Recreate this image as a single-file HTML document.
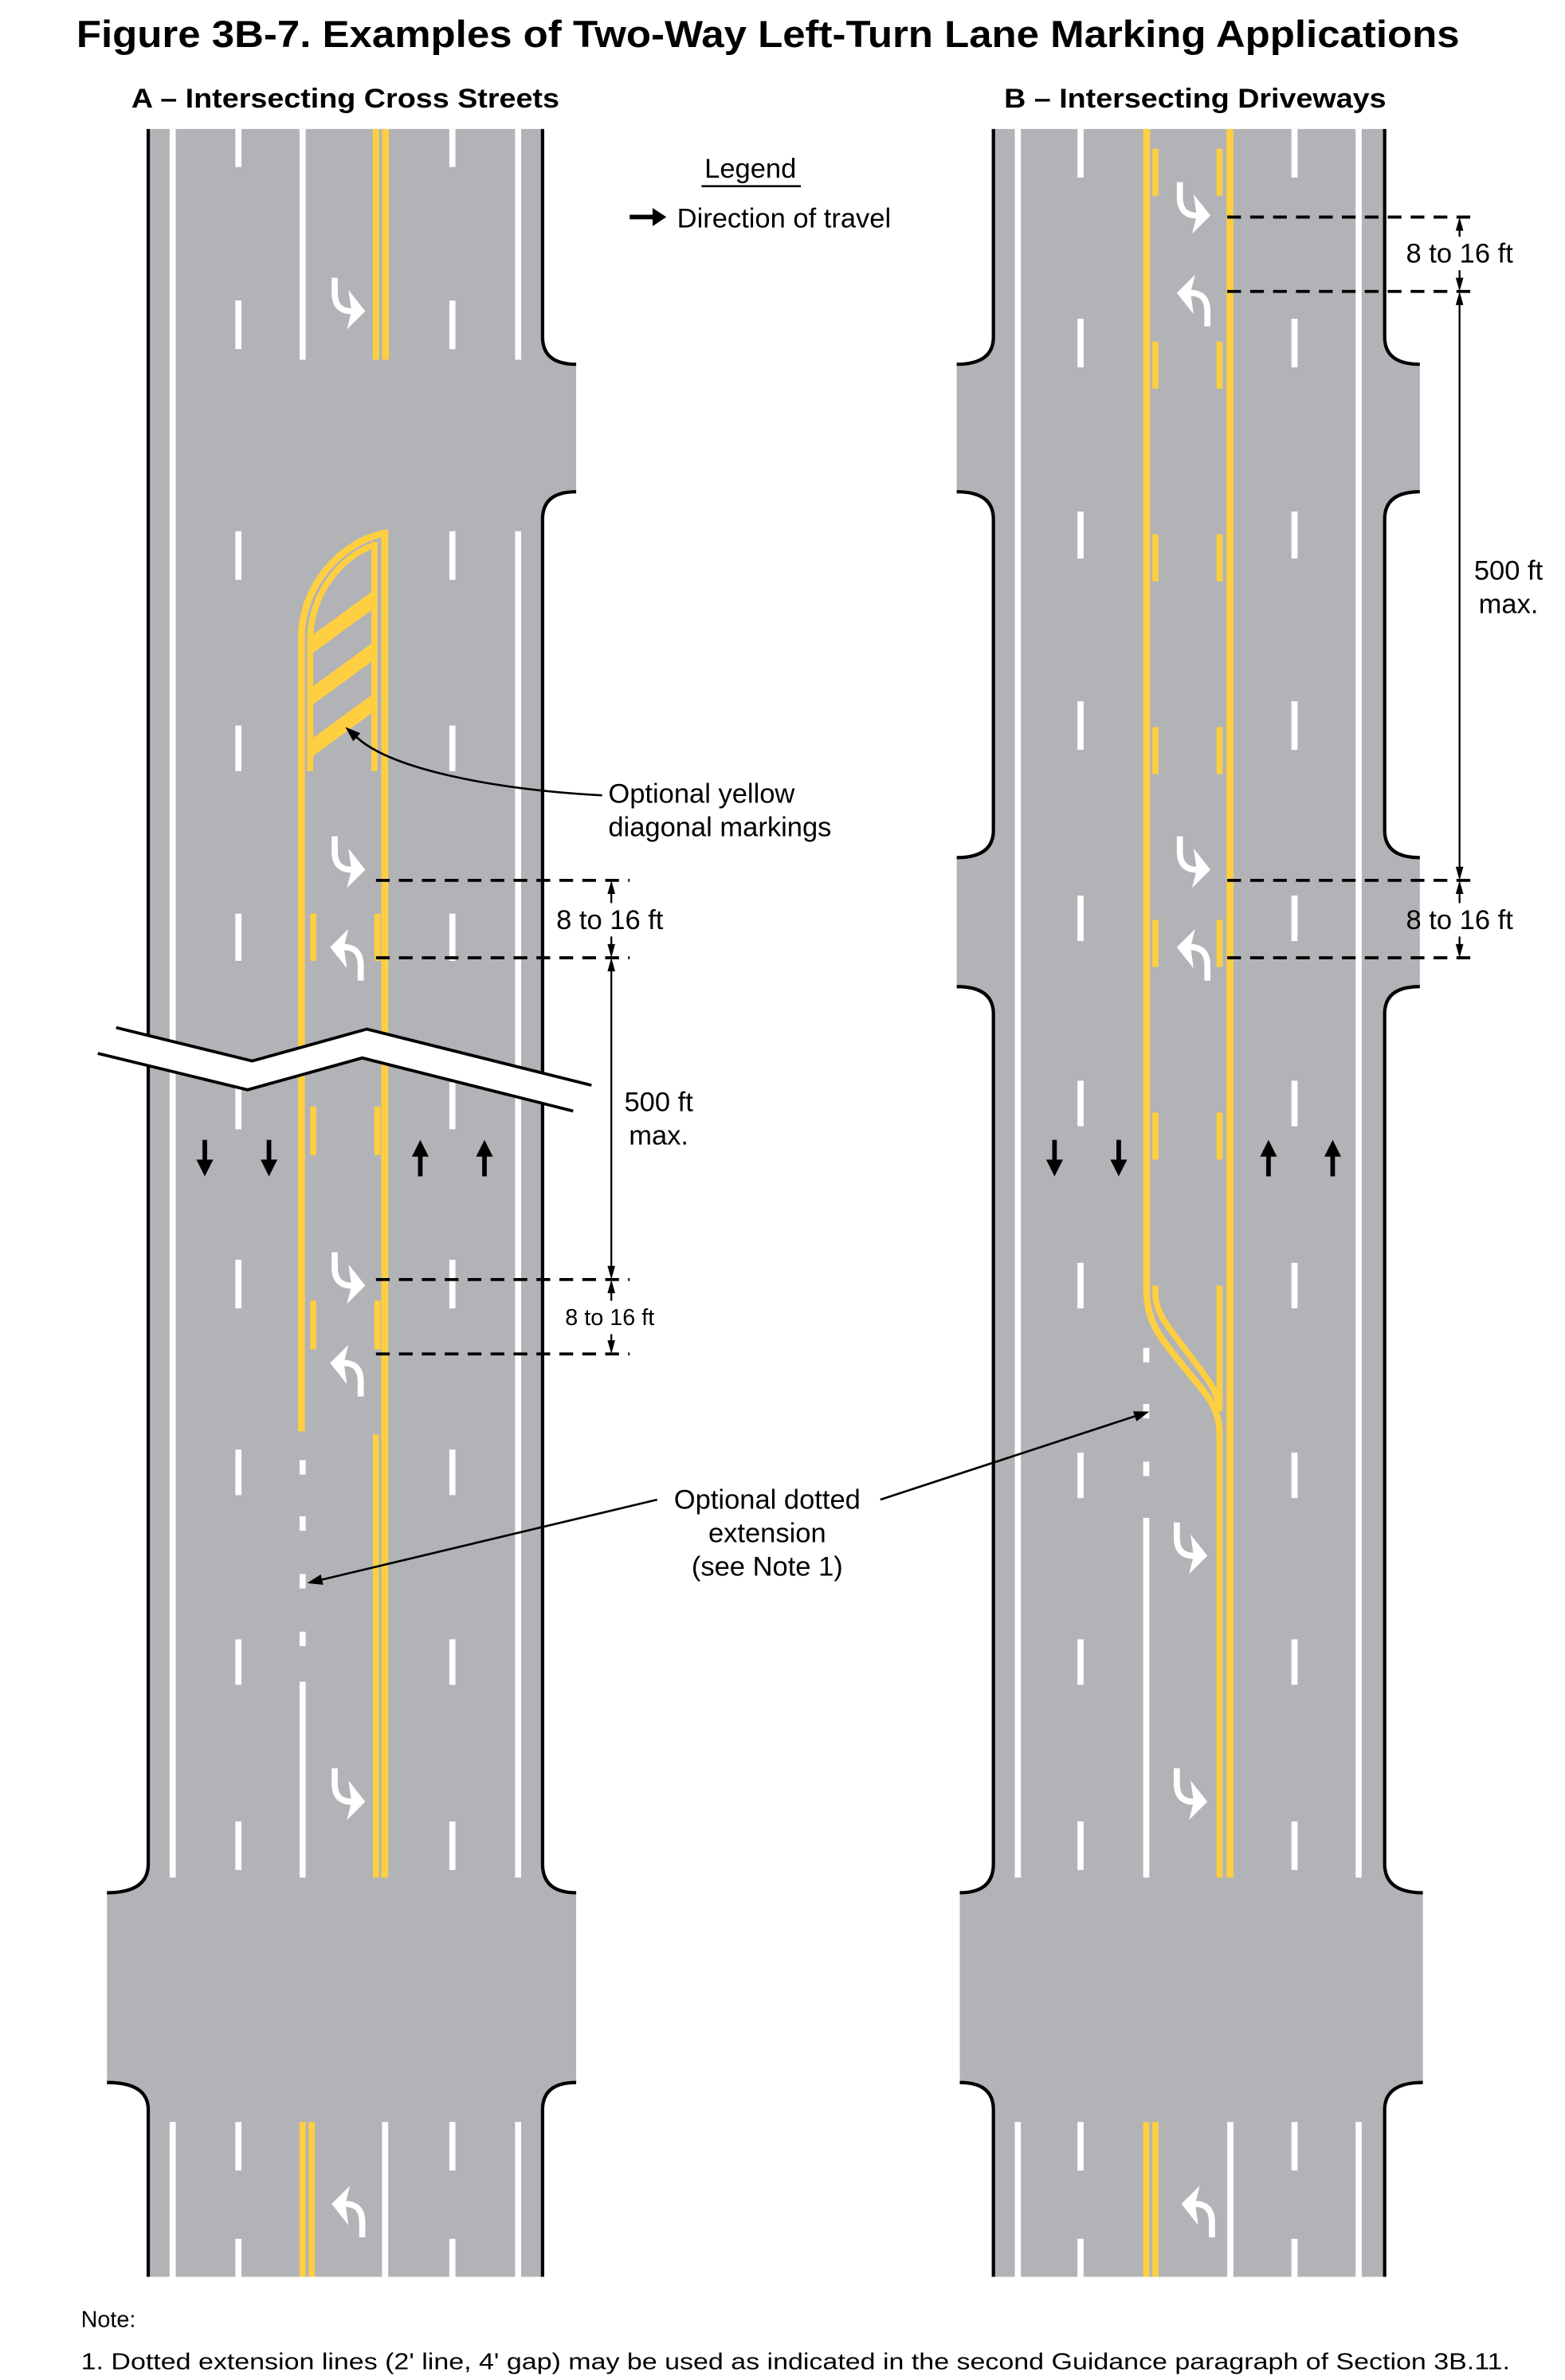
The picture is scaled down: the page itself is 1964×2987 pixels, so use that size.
<!DOCTYPE html>
<html><head><meta charset="utf-8"><style>
html,body{margin:0;padding:0;background:#fff;}
svg{display:block;}
text{font-family:"Liberation Sans",Arial,sans-serif;fill:#000;}
</style></head><body>
<svg width="1964" height="2987" viewBox="0 0 1024 1568" preserveAspectRatio="none" xmlns="http://www.w3.org/2000/svg">
<defs>
<g id="rt"><path d="M2,0 V10 Q2,22 13,22" stroke="#fff" stroke-width="4" fill="none"/><polygon points="11,8 22,22 10,34 13,22" fill="#fff"/></g>
<path id="dn" d="M-1.5,0 h3 v13 h4 l-5.5,11 l-5.5,-11 h4z" fill="#000"/>
<path id="up" d="M-1.5,24 h3 v-13 h4 l-5.5,-11 l-5.5,11 h4z" fill="#000"/>
</defs>
<text x="50" y="31" font-size="25" font-weight="bold" textLength="905" lengthAdjust="spacingAndGlyphs">Figure 3B-7.  Examples of Two-Way Left-Turn Lane Marking Applications</text>
<text x="86" y="71" font-size="18" font-weight="bold" textLength="280" lengthAdjust="spacingAndGlyphs">A – Intersecting Cross Streets</text>
<text x="657" y="71" font-size="18" font-weight="bold" textLength="250" lengthAdjust="spacingAndGlyphs">B – Intersecting Driveways</text>

<!-- ROAD A -->
<path d="M97,85 H355 V222 Q355,240 377,240 V324 Q355,324 355,342 V1228 Q355,1247 377,1247 V1372 Q355,1372 355,1390 V1500 H97 V1390 Q97,1372 70,1372 V1247 Q97,1247 97,1228 Z" fill="#b2b3b6"/>
<g stroke="#000" stroke-width="2.2" fill="none">
<path d="M97,85 V1228 Q97,1247 70,1247"/><path d="M70,1372 Q97,1372 97,1390 V1500"/>
<path d="M355,85 V222 Q355,240 377,240"/><path d="M377,324 Q355,324 355,342 V1228 Q355,1247 377,1247"/><path d="M377,1372 Q355,1372 355,1390 V1500"/>
</g>
<g fill="#fff">
<rect x="111" y="85" width="4" height="1152"/><rect x="111" y="1398" width="4" height="102"/>
<rect x="337" y="85" width="4" height="152"/><rect x="337" y="350" width="4" height="887"/><rect x="337" y="1398" width="4" height="102"/>
<rect x="196" y="85" width="4" height="152"/>
<rect x="196" y="962" width="4" height="9.5"/><rect x="196" y="999" width="4" height="9.5"/><rect x="196" y="1037" width="4" height="9.5"/><rect x="196" y="1075" width="4" height="9.5"/>
<rect x="196" y="1108" width="4" height="129"/>
<rect x="250" y="1398" width="4" height="102"/>
<g id="dA">
<rect x="154" y="85" width="4" height="25"/><rect x="154" y="198" width="4" height="32"/><rect x="154" y="350" width="4" height="32"/><rect x="154" y="478" width="4" height="30"/><rect x="154" y="602" width="4" height="31"/><rect x="154" y="713" width="4" height="31"/><rect x="154" y="830" width="4" height="32"/><rect x="154" y="955" width="4" height="30"/><rect x="154" y="1080" width="4" height="30"/><rect x="154" y="1200" width="4" height="32"/><rect x="154" y="1398" width="4" height="32"/><rect x="154" y="1475" width="4" height="25"/>
</g>
<use href="#dA" transform="translate(140,0)"/>
</g>
<g fill="#fecf41">
<rect x="244" y="85" width="4" height="152"/><rect x="250" y="85" width="4.5" height="152"/>
<rect x="249.5" y="349" width="4.5" height="888"/>
<rect x="244" y="945" width="4" height="292"/>
<rect x="195" y="415" width="4.5" height="528"/>
<rect x="201" y="420" width="4" height="88"/><rect x="243" y="357" width="4" height="151"/>
<rect x="203" y="602" width="4" height="31"/><rect x="245" y="602" width="4" height="31"/>
<rect x="203" y="729" width="4" height="32"/><rect x="245" y="729" width="4" height="32"/>
<rect x="203" y="857" width="4" height="32"/><rect x="245" y="857" width="4" height="32"/>
<rect x="196" y="1398" width="4" height="102"/><rect x="202" y="1398" width="4" height="102"/>
<polygon points="205,418 243,390 243,402 205,430"/>
<polygon points="205,452 243,424 243,436 205,464"/>
<polygon points="205,486 243,458 243,470 205,498"/>
</g>
<g stroke="#fecf41" stroke-width="4.5" fill="none">
<path d="M254,351 C225,355 197.2,385 197.2,420"/>
<path d="M245,359 C222,367 203,392 203,422" stroke-width="4"/>
</g>
<use href="#rt" x="217" y="183"/>
<use href="#rt" x="217" y="551"/>
<use href="#rt" transform="translate(238,646) rotate(180)"/>
<use href="#rt" x="217" y="825"/>
<use href="#rt" transform="translate(238,920) rotate(180)"/>
<use href="#rt" x="217" y="1165"/>
<use href="#rt" transform="translate(239,1474) rotate(180)"/>
<use href="#dn" x="134" y="751"/><use href="#dn" x="176" y="751"/>
<use href="#up" x="275" y="751"/><use href="#up" x="317" y="751"/>
<!-- break -->
<polygon points="76,677 165,699 240,678 387,715 375,732 237,697 162,718 64,694" fill="#fff"/>
<polyline points="76,677 165,699 240,678 387,715" fill="none" stroke="#000" stroke-width="2"/>
<polyline points="64,694 162,718 237,697 375,732" fill="none" stroke="#000" stroke-width="2"/>

<!-- ROAD B -->
<path d="M650,85 H906 V222 Q906,240 929,240 V324 Q906,324 906,342 V547 Q906,565 929,565 V650 Q906,650 906,668 V1228 Q906,1247 931,1247 V1372 Q906,1372 906,1390 V1500 H650 V1390 Q650,1372 628,1372 V1247 Q650,1247 650,1228 V668 Q650,650 626,650 V565 Q650,565 650,547 V342 Q650,324 626,324 V240 Q650,240 650,222 Z" fill="#b2b3b6"/>
<g stroke="#000" stroke-width="2.2" fill="none">
<path d="M650,85 V222 Q650,240 626,240"/><path d="M626,324 Q650,324 650,342 V547 Q650,565 626,565"/><path d="M626,650 Q650,650 650,668 V1228 Q650,1247 628,1247"/><path d="M628,1372 Q650,1372 650,1390 V1500"/>
<path d="M906,85 V222 Q906,240 929,240"/><path d="M929,324 Q906,324 906,342 V547 Q906,565 929,565"/><path d="M929,650 Q906,650 906,668 V1228 Q906,1247 931,1247"/><path d="M931,1372 Q906,1372 906,1390 V1500"/>
</g>
<g fill="#fff">
<rect x="664" y="85" width="4" height="1152"/><rect x="664" y="1398" width="4" height="102"/>
<rect x="887" y="85" width="4" height="1152"/><rect x="887" y="1398" width="4" height="102"/>
<rect x="748" y="888" width="4" height="9.5"/><rect x="748" y="925" width="4" height="9.5"/><rect x="748" y="963" width="4" height="9.5"/>
<rect x="748" y="1000" width="4" height="237"/>
<rect x="803" y="1398" width="4" height="102"/>
<g id="dB">
<rect x="705" y="85" width="4" height="32"/><rect x="705" y="210" width="4" height="32"/><rect x="705" y="337" width="4" height="31"/><rect x="705" y="462" width="4" height="32"/><rect x="705" y="590" width="4" height="30"/><rect x="705" y="712" width="4" height="30"/><rect x="705" y="832" width="4" height="30"/><rect x="705" y="957" width="4" height="30"/><rect x="705" y="1080" width="4" height="30"/><rect x="705" y="1200" width="4" height="32"/><rect x="705" y="1398" width="4" height="32"/><rect x="705" y="1475" width="4" height="25"/>
</g>
<use href="#dB" transform="translate(140,0)"/>
</g>
<g fill="#fecf41">
<rect x="748" y="85" width="4.5" height="767"/>
<rect x="802.5" y="85" width="4.5" height="1152"/>
<rect x="796" y="940" width="4" height="297"/>
<rect x="796" y="847" width="4" height="80"/>
<g id="ydB">
<rect x="754" y="98" width="4" height="31"/><rect x="754" y="225" width="4" height="31"/><rect x="754" y="352" width="4" height="31"/><rect x="754" y="479" width="4" height="31"/><rect x="754" y="606" width="4" height="31"/><rect x="754" y="733" width="4" height="31"/>
</g>
<use href="#ydB" transform="translate(42,0)"/>
<rect x="748" y="1398" width="4" height="102"/><rect x="754" y="1398" width="4" height="102"/>
</g>
<g stroke="#fecf41" stroke-width="4.3" fill="none">
<path d="M750.2,850 C750.2,872 760,882 775,901 C790,920 798,926 798,946"/>
<path d="M756,847 V852 C756,866 766,876 780,895 C792,911 797,917 798,930" stroke-width="4"/>
</g>
<use href="#rt" x="770" y="120"/>
<use href="#rt" transform="translate(792,215) rotate(180)"/>
<use href="#rt" x="770" y="551"/>
<use href="#rt" transform="translate(792,646) rotate(180)"/>
<use href="#rt" x="768" y="1003"/>
<use href="#rt" x="768" y="1165"/>
<use href="#rt" transform="translate(795,1474) rotate(180)"/>
<use href="#dn" x="690" y="751"/><use href="#dn" x="732" y="751"/>
<use href="#up" x="830" y="751"/><use href="#up" x="872" y="751"/>

<!-- Legend -->
<text x="491" y="117" font-size="18" text-anchor="middle">Legend</text>
<rect x="459" y="122" width="65" height="1.3" fill="#000"/>
<path d="M412,141.5 h15 v-4.5 l9,6 l-9,6 v-4.5 h-15z" fill="#000"/>
<text x="443" y="150" font-size="18">Direction of travel</text>

<!-- Dimensions A -->
<g stroke="#000" stroke-width="2" stroke-dasharray="9 6" fill="none">
<path d="M246,580 H412"/><path d="M246,631 H412"/><path d="M246,843 H412"/><path d="M246,892 H412"/>
<path d="M803,143 H967"/><path d="M803,192 H967"/><path d="M803,580 H967"/><path d="M803,631 H967"/>
</g>
<g stroke="#000" stroke-width="1.2" fill="none">
<path d="M400,588 V595"/><path d="M400,617 V623"/><path d="M400,639 V835"/><path d="M400,851 V857"/><path d="M400,879 V884"/>
<path d="M955,151 V156"/><path d="M955,178 V184"/><path d="M955,200 V572"/><path d="M955,588 V595"/><path d="M955,617 V623"/>
</g>
<g fill="#000">
<polygon points="400,580 397.5,589 402.5,589"/><polygon points="400,631 397.5,622 402.5,622"/>
<polygon points="400,631 397.5,640 402.5,640"/><polygon points="400,843 397.5,834 402.5,834"/>
<polygon points="400,843 397.5,852 402.5,852"/><polygon points="400,892 397.5,883 402.5,883"/>
<polygon points="955,143 952.5,152 957.5,152"/><polygon points="955,192 952.5,183 957.5,183"/>
<polygon points="955,192 952.5,201 957.5,201"/><polygon points="955,580 952.5,571 957.5,571"/>
<polygon points="955,580 952.5,589 957.5,589"/><polygon points="955,631 952.5,622 957.5,622"/>
</g>
<text x="399" y="612" font-size="18" text-anchor="middle">8 to 16 ft</text>
<text x="431" y="732" font-size="18" text-anchor="middle">500 ft</text>
<text x="431" y="754" font-size="18" text-anchor="middle">max.</text>
<text x="399" y="873" font-size="15" text-anchor="middle">8 to 16 ft</text>
<text x="955" y="173" font-size="18" text-anchor="middle">8 to 16 ft</text>
<text x="987" y="382" font-size="18" text-anchor="middle">500 ft</text>
<text x="987" y="404" font-size="18" text-anchor="middle">max.</text>
<text x="955" y="612" font-size="18" text-anchor="middle">8 to 16 ft</text>

<!-- Callouts -->
<text x="398" y="529" font-size="18">Optional yellow</text>
<text x="398" y="551" font-size="18">diagonal markings</text>
<path d="M394,524 C320,520 255,506 233.4,485.7" stroke="#000" stroke-width="1.4" fill="none"/>
<polygon points="226,479 235.8,483.1 231.1,488.3" fill="#000"/>
<text x="502" y="994" font-size="18" text-anchor="middle">Optional dotted</text>
<text x="502" y="1016" font-size="18" text-anchor="middle">extension</text>
<text x="502" y="1038" font-size="18" text-anchor="middle">(see Note 1)</text>
<path d="M430,988 L210.7,1040.7" stroke="#000" stroke-width="1.4"/>
<polygon points="201,1043 211.5,1044.1 209.9,1037.3" fill="#000"/>
<path d="M576,988 L742.5,933.1" stroke="#000" stroke-width="1.4"/>
<polygon points="752,930 743.6,936.4 741.4,929.8" fill="#000"/>

<!-- Note -->
<text x="53" y="1533" font-size="15">Note:</text>
<text x="53" y="1561" font-size="15" textLength="935" lengthAdjust="spacingAndGlyphs">1. Dotted extension lines (2' line, 4' gap) may be used as indicated in the second Guidance paragraph of Section 3B.11.</text>
</svg>
</body></html>
